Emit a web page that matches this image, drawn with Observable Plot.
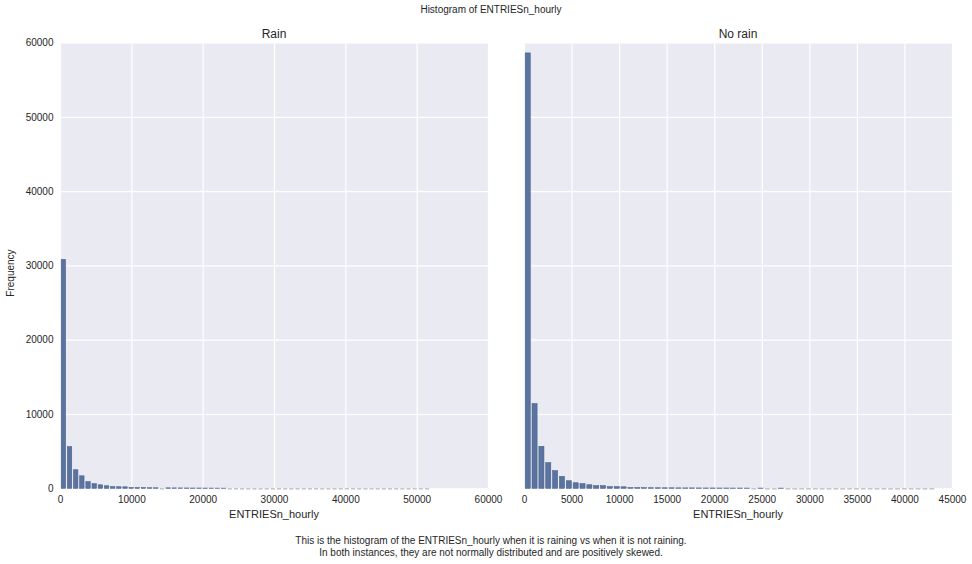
<!DOCTYPE html>
<html>
<head>
<meta charset="utf-8">
<script src="https://cdn.jsdelivr.net/npm/d3@7"></script>
<script src="https://cdn.jsdelivr.net/npm/@observablehq/plot@0.6"></script>
<style>
  html, body { margin: 0; padding: 0; background: #ffffff; overflow: hidden; }
  #root { position: relative; width: 972px; height: 564px; font-family: "Liberation Sans", Arial, sans-serif; color: #262626; }
  .abs { position: absolute; white-space: nowrap; }
  svg.plot { position: absolute; top: 0; overflow: visible; }
</style>
</head>
<body>
<div id="root"></div>
<script>
// ---- data ----
const chartTitle = "Histogram of ENTRIESn_hourly";
const panelTitles = ["Rain", "No rain"];
const xLabel = "ENTRIESn_hourly";
const yLabel = "Frequency";
const captionLines = [
  "This is the histogram of the ENTRIESn_hourly when it is raining vs when it is not raining.",
  "In both instances, they are not normally distributed and are positively skewed."
];

// Rain: 60 bins of width 864 (0 .. 51839)
const rainBinWidth = 864;
const rainCounts = [
  30800, 5600, 2500, 1680, 900, 620, 470, 340, 220, 210,
  200, 110, 100, 90, 80, 70, 0, 60, 55, 50,
  45, 40, 40, 35, 30, 25, 20, 0, 0, 0,
  0, 0, 0, 0, 0, 0, 0, 0, 0, 0,
  0, 0, 0, 0, 0, 0, 0, 0, 0, 0,
  0, 0, 0, 0, 0, 0, 0, 0, 0, 0
];
const rainXTicks = [0, 10000, 20000, 30000, 40000, 50000, 60000];

// No rain: 60 bins of width 720 (0 .. 43199)
const noRainBinWidth = 720;
const noRainCounts = [
  58600, 11400, 5650, 3450, 2370, 1600, 1020, 750, 620, 480,
  350, 350, 220, 220, 200, 95, 90, 85, 80, 75,
  70, 65, 60, 55, 55, 50, 45, 45, 40, 40,
  35, 35, 30, 0, 30, 0, 0, 25, 0, 0,
  0, 0, 0, 0, 0, 0, 0, 0, 0, 0,
  0, 0, 0, 0, 0, 0, 0, 0, 0, 0
];
const noRainXTicks = [0, 5000, 10000, 15000, 20000, 25000, 30000, 35000, 40000, 45000];

const yTicks = [0, 10000, 20000, 30000, 40000, 50000, 60000];

// ---- helpers ----
const root = document.getElementById("root");
function addText(txt, css) {
  const d = document.createElement("div");
  d.className = "abs";
  d.textContent = txt;
  Object.assign(d.style, css);
  root.appendChild(d);
  return d;
}
function bins(counts, w) {
  return counts.map((c, i) => ({x1: i * w, x2: (i + 1) * w, count: c}));
}

const BG = "#EAEAF2";
const BAR = "#5a73a0";
const BAR_EDGE = "#4d638c";
const ZERO = "#c6c6ce";
const fmt = d3.format("d");

function panel({data, xDomain, xTicks, showY, left, width, marginLeft, marginRight}) {
  const p = Plot.plot({
    width,
    height: 530,
    marginLeft,
    marginRight,
    marginTop: 42.5,
    marginBottom: 41.7,
    style: {fontFamily: "'Liberation Sans', Arial, sans-serif", fontSize: "10px", color: "#262626", background: "transparent", overflow: "visible"},
    x: {domain: xDomain, label: null, axis: null},
    y: {domain: [0, 60000], label: null, axis: null},
    marks: [
      Plot.frame({fill: BG, stroke: null}),
      Plot.gridX(xTicks, {stroke: "#ffffff", strokeOpacity: 1, strokeWidth: 1.2}),
      Plot.gridY(yTicks, {stroke: "#ffffff", strokeOpacity: 1, strokeWidth: 1.2}),
      Plot.ruleY(data.filter(d => d.count === 0), {
        x1: "x1", x2: "x2", y: 0, stroke: ZERO, strokeWidth: 1.6, insetLeft: 1.3, insetRight: 0.7
      }),
      Plot.rectY(data.filter(d => d.count > 0), {
        x1: "x1", x2: "x2", y1: 0, y2: "count",
        fill: BAR, stroke: BAR_EDGE, strokeWidth: 0.6, insetLeft: 1.2, insetRight: 0.6
      }),
      Plot.axisX(xTicks, {tickSize: 0, tickPadding: 7, label: null, fontSize: 10, fill: "#262626", tickFormat: fmt}),
      showY
        ? Plot.axisY(yTicks, {tickSize: 0, tickPadding: 7, label: null, fontSize: 10, fill: "#262626", tickFormat: fmt})
        : null
    ]
  });
  p.classList.add("plot");
  p.style.left = left + "px";
  root.appendChild(p);
}

// Left panel: plot area 60..488
panel({
  data: bins(rainCounts, rainBinWidth),
  xDomain: [0, 60000], xTicks: rainXTicks, showY: true,
  left: 0, width: 500, marginLeft: 60, marginRight: 12
});
// Right panel: plot area 524..952
panel({
  data: bins(noRainCounts, noRainBinWidth),
  xDomain: [0, 45000], xTicks: noRainXTicks, showY: false,
  left: 514, width: 458, marginLeft: 10, marginRight: 20
});

// Texts
addText(chartTitle, {left: "491px", top: "4px", transform: "translateX(-50%)", fontSize: "10px"});
addText(panelTitles[0], {left: "274px", top: "27px", transform: "translateX(-50%)", fontSize: "12px"});
addText(panelTitles[1], {left: "738px", top: "27px", transform: "translateX(-50%)", fontSize: "12px"});
addText(xLabel, {left: "274px", top: "508px", transform: "translateX(-50%)", fontSize: "11px"});
addText(xLabel, {left: "738px", top: "508px", transform: "translateX(-50%)", fontSize: "11px"});
addText(yLabel, {left: "10px", top: "273px", transform: "translate(-50%, -50%) rotate(-90deg)", fontSize: "10px"});
addText(captionLines[0], {left: "491px", top: "535px", transform: "translateX(-50%)", fontSize: "10px"});
addText(captionLines[1], {left: "491px", top: "547px", transform: "translateX(-50%)", fontSize: "10px"});
</script>
</body>
</html>
